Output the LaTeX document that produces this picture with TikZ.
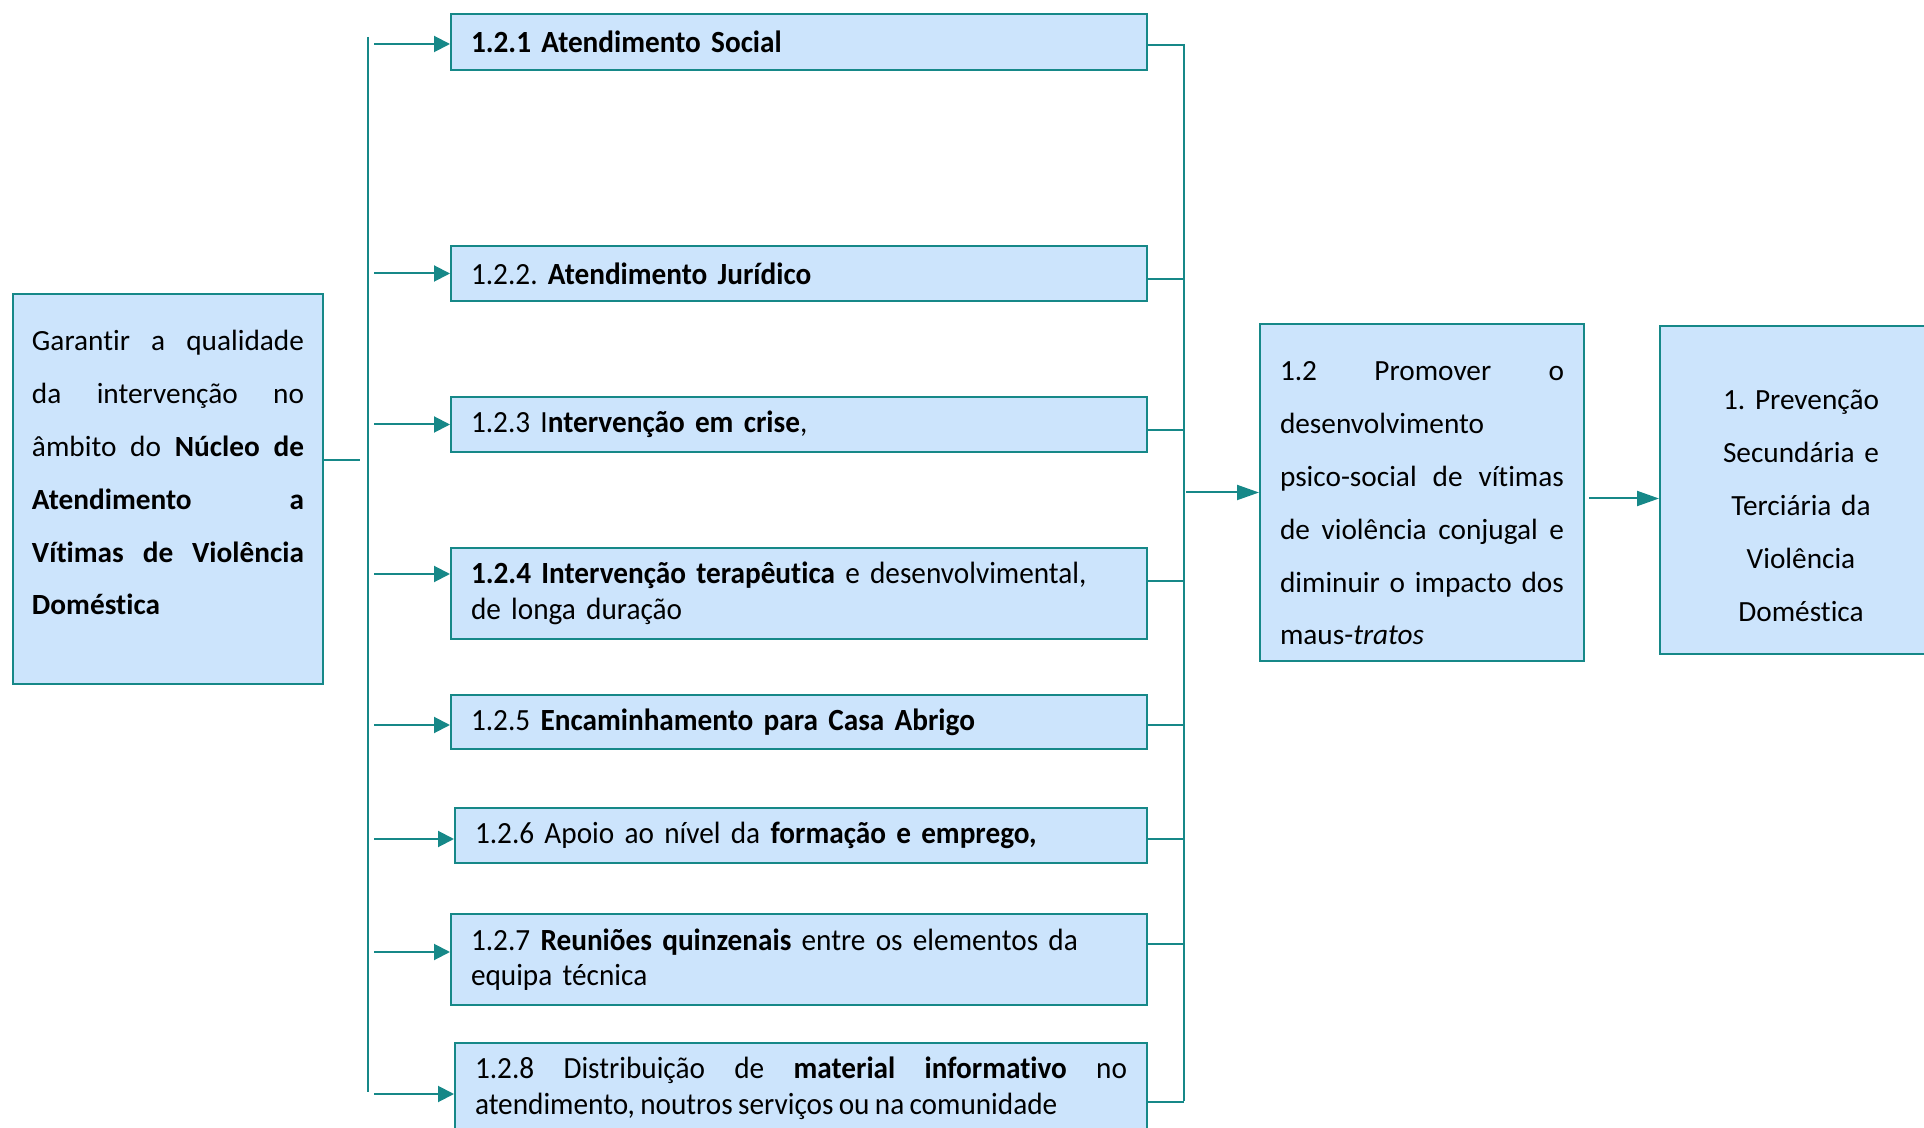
\documentclass[tikz,border=0pt]{standalone}
\usepackage{fontspec}
\setmainfont{Carlito}[Ligatures=NoCommon]
\newfontfamily\actfont{Carlito}[FakeStretch=0.95, WordSpace=0.8, Ligatures=NoCommon]
\usepackage{xcolor}
\usetikzlibrary{arrows.meta}

\definecolor{boxfill}{RGB}{204,228,252}
\definecolor{tealline}{RGB}{22,136,136}

\tikzset{
  bigbox/.style={draw=tealline, line width=1pt, fill=boxfill, anchor=north west,
    inner ysep=0pt, align=justify, font=\fontsize{14.65}{26.4}\selectfont},
  actbox/.style={draw=tealline, line width=1pt, fill=boxfill, anchor=north west,
    inner xsep=10pt, inner ysep=3pt, text width=328pt, align=left,
    font=\actfont\fontsize{15.4}{17.8}\selectfont},
  link/.style={draw=tealline, line width=1pt},
  arr/.style={link, -{Triangle[length=8pt,width=8pt]}},
  bigarr/.style={link, -{Triangle[length=11pt,width=7.5pt]}}
}

\begin{document}
\frenchspacing
\begin{tikzpicture}[x=0.5pt, y=-0.5pt]
        \useasboundingbox (0,0) rectangle (1924,1128);

        % Objective box
        \node[bigbox, text width=136pt, inner xsep=9.5pt] (garantir) at (12,293) {\rule{0pt}{28.5pt}Garantir a qualidade\linebreak da intervenção no\linebreak âmbito do \textbf{Núcleo de}\linebreak \textbf{Atendimento a}\linebreak \textbf{Vítimas de Violência}\linebreak \textbf{Doméstica}\rule[-34.5pt]{0pt}{0pt}};

        % Activities
        \node[actbox, minimum height=28pt] (t1) at (450,13) {\textbf{1.2.1 Atendimento Social}};
        \node[actbox, minimum height=27.5pt] (t2) at (450,245) {1.2.2. \textbf{Atendimento Jurídico}};
        \node[actbox, minimum height=27.5pt] (t3) at (450,396) {1.2.3 I\textbf{ntervenção em crise},};
        \node[actbox, minimum height=45.5pt] (t4) at (450,547) {\textbf{1.2.4 Intervenção terapêutica} e desenvolvimental,\\ de longa duração};
        \node[actbox, minimum height=27pt] (t5) at (450,694) {1.2.5 \textbf{Encaminhamento para Casa Abrigo}};
        \node[actbox, minimum height=27.5pt, text width=326pt] (t6) at (454,807) {1.2.6 Apoio ao nível da \textbf{formação e emprego,}};
        \node[actbox, minimum height=45.5pt] (t7) at (450,913) {1.2.7 \textbf{Reuniões quinzenais} entre os elementos da\\ equipa técnica};
        \node[actbox, minimum height=45.5pt, text width=326pt, align=justify] (t8) at (454,1042) {1.2.8 Distribuição de \textbf{material informativo} no\linebreak atendimento, noutros serviços ou na comunidade};

        % Specific objective and goal
        \node[bigbox, text width=142pt, inner xsep=10pt] (p12) at (1259,323) {\rule{0pt}{28.5pt}1.2 Promover o\linebreak desenvolvimento\newline psico-social de vítimas\linebreak de violência conjugal e\linebreak diminuir o impacto dos\linebreak maus-\textit{tratos}\rule[-8pt]{0pt}{0pt}};
        \node[bigbox, align=center, text width=120pt, inner xsep=10.5pt] (prev) at (1659,325) {\rule{0pt}{42pt}1. Prevenção\\ Secundária e\\ Terciária da\\ Violência\\ Doméstica\rule[-16.5pt]{0pt}{0pt}};

        % Bars
        \coordinate (gstub) at (360,460);
        \coordinate (arrL) at (374,0);
        \coordinate (barLtop) at (368,37);
        \coordinate (barLbot) at (368,1092);
        \coordinate (arrR) at (1186,0);
        \coordinate (barRtop) at (1184,44);
        \coordinate (barRbot) at (1184,1101);

        \draw[link] (garantir.east |- gstub) -- (gstub);
        \draw[link] (barLtop) -- (barLbot);
        \draw[link] (barRtop) -- (barRbot);

        % Left arrows
        \draw[arr] ([yshift=-1pt]t1.west -| arrL) -- ([yshift=-1pt]t1.west);
        \draw[arr] (t2.west -| arrL) -- (t2.west);
        \draw[arr] (t3.west -| arrL) -- (t3.west);
        \draw[arr] ([yshift=9.75pt]t4.west -| arrL) -- ([yshift=9.75pt]t4.west);
        \draw[arr] ([yshift=-1.5pt]t5.west -| arrL) -- ([yshift=-1.5pt]t5.west);
        \draw[arr] ([yshift=-1.75pt]t6.west -| arrL) -- ([yshift=-1.75pt]t6.west);
        \draw[arr] ([yshift=3.75pt]t7.west -| arrL) -- ([yshift=3.75pt]t7.west);
        \draw[arr] ([yshift=-2.75pt]t8.west -| arrL) -- ([yshift=-2.75pt]t8.west);

        % Right stubs
        \draw[link] ([yshift=-1.5pt]t1.east) -- ([yshift=-1.5pt]t1.east -| barRtop);
        \draw[link] ([yshift=-2.75pt]t2.east) -- ([yshift=-2.75pt]t2.east -| barRtop);
        \draw[link] ([yshift=-2.75pt]t3.east) -- ([yshift=-2.75pt]t3.east -| barRtop);
        \draw[link] ([yshift=6.25pt]t4.east) -- ([yshift=6.25pt]t4.east -| barRtop);
        \draw[link] ([yshift=-1.5pt]t5.east) -- ([yshift=-1.5pt]t5.east -| barRtop);
        \draw[link] ([yshift=-1.75pt]t6.east) -- ([yshift=-1.75pt]t6.east -| barRtop);
        \draw[link] ([yshift=7.75pt]t7.east) -- ([yshift=7.75pt]t7.east -| barRtop);
        \draw[link] ([yshift=-6.75pt]t8.east) -- ([yshift=-6.75pt]t8.east -| barRtop);

        % To objective and goal
        \draw[bigarr] (p12.west -| arrR) -- (p12.west);
        \draw[bigarr] ([xshift=2pt,yshift=-3pt]p12.east) -- ([yshift=-3pt]p12.east -| prev.west);
\end{tikzpicture}
\end{document}
